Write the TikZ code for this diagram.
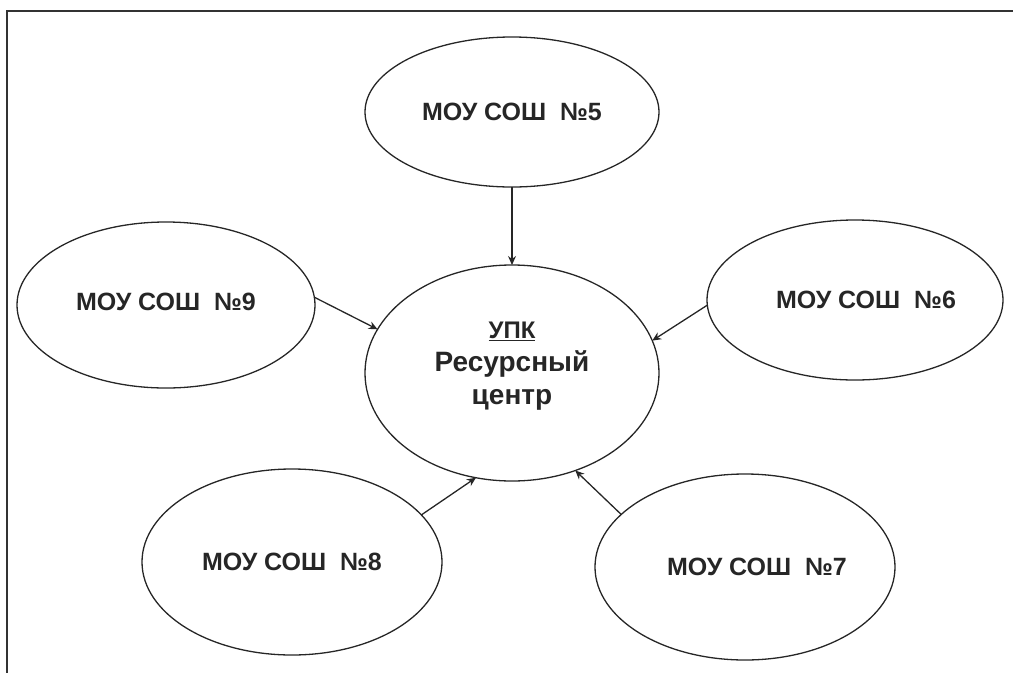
\documentclass[tikz,border=0pt]{standalone}
\usepackage{fontspec}
\setmainfont{Liberation Sans}
\usetikzlibrary{shapes.geometric,arrows.meta}
\begin{document}
\begin{tikzpicture}[x=1pt,y=-1pt,
  oval/.style={ellipse,draw=black!85,line width=1.3pt,inner sep=0pt,outer sep=0pt,
    font=\fontsize{25}{29}\selectfont\bfseries,text=black!85},
  arr/.style={draw=black!85,line width=1.3pt,-{Stealth[length=9pt,width=8pt,inset=3pt]}},
  frame/.style={draw=black!80,line width=2.6pt}]
\useasboundingbox (0,0) rectangle (1013,673);
\draw[frame] (1013,11) -- (7,11) -- (7,673);
\node[oval,minimum width=294pt,minimum height=216pt,align=center,
  font=\fontsize{28}{33}\selectfont\bfseries] (c) at (512,373)
  {{\fontsize{24}{28}\selectfont\underline{УПК}}\\Ресурсный\\центр\\[-14pt]\mbox{}};
\node[oval,minimum width=294pt,minimum height=150pt] (n5) at (512,112) {\raisebox{-5pt}{МОУ СОШ~~№5}};
\node[oval,minimum width=298pt,minimum height=166pt] (n9) at (166,305) {\raisebox{7pt}{МОУ СОШ~~№9}};
\node[oval,minimum width=296pt,minimum height=160pt] (n6) at (855,300) {\hspace*{22pt}МОУ СОШ~~№6};
\node[oval,minimum width=300pt,minimum height=186pt] (n8) at (292,562) {МОУ СОШ~~№8};
\node[oval,minimum width=300pt,minimum height=186pt] (n7) at (745,567) {\hspace*{24pt}МОУ СОШ~~№7};
\draw[arr] (n5.270) -- (c.90);
\draw[arr] (n9.3) -- (c.162);
\draw[arr] (n6.182) -- (c.13.8);
\draw[arr] (n8.20) -- (c.251.6);
\draw[arr] (n7.157) -- (c.303.3);
\end{tikzpicture}
\end{document}
